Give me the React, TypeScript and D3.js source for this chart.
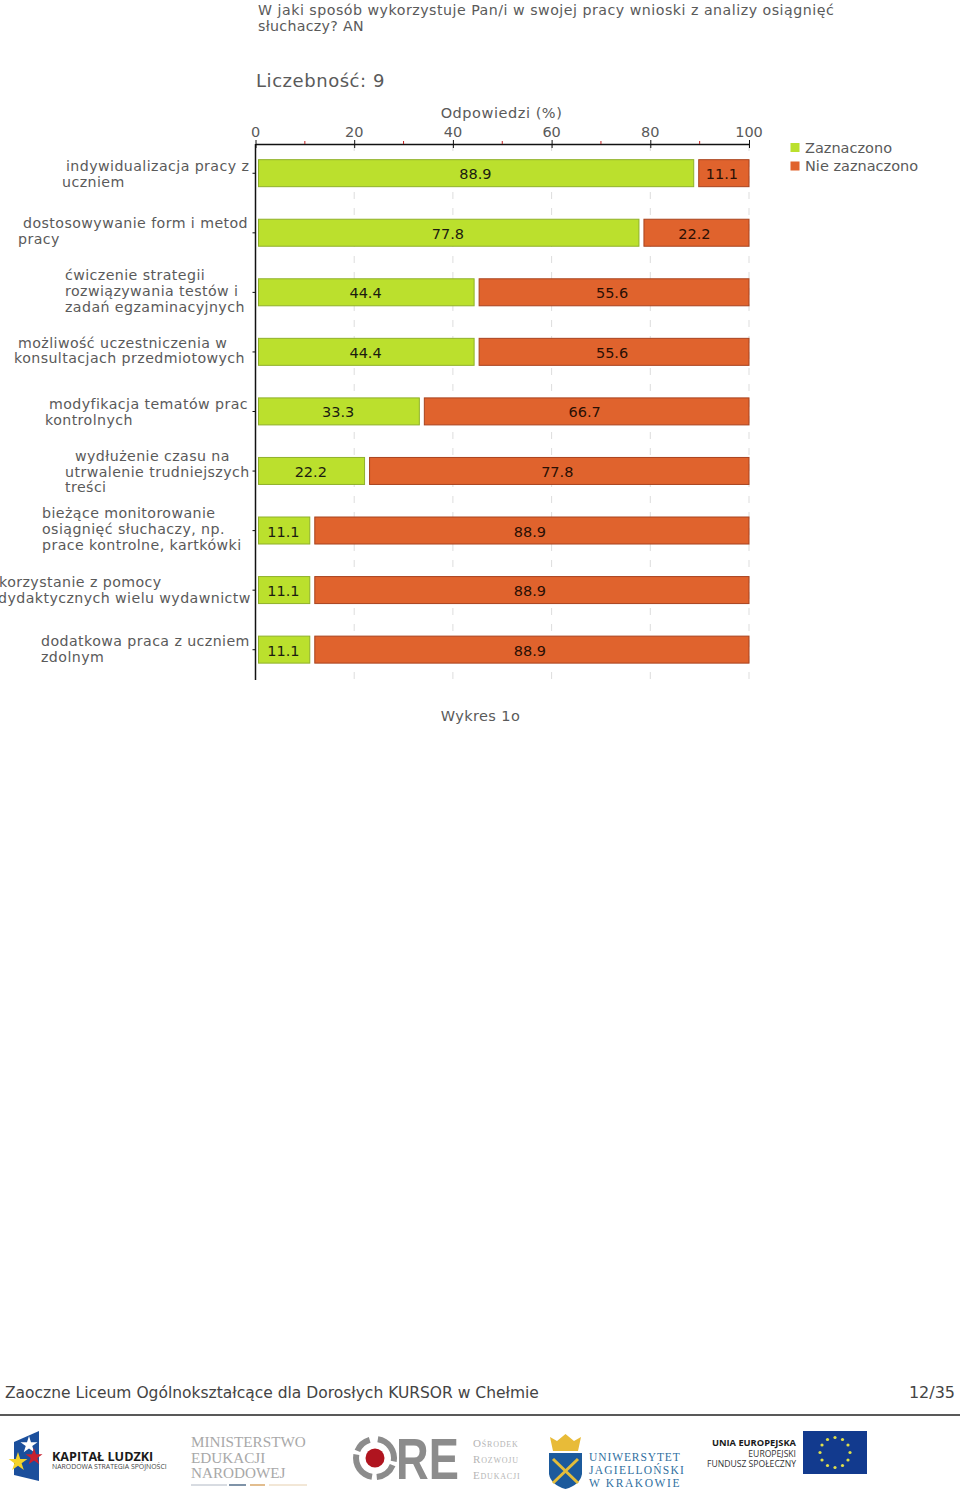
import React, { useEffect, useRef } from "react";
import * as d3 from "d3";

const categories = [
  ["indywidualizacja pracy z", "uczniem"],
  ["dostosowywanie form i metod", "pracy"],
  ["ćwiczenie strategii", "rozwiązywania testów i", "zadań egzaminacyjnych"],
  ["możliwość uczestniczenia w", "konsultacjach przedmiotowych"],
  ["modyfikacja tematów prac", "kontrolnych"],
  ["wydłużenie czasu na", "utrwalenie trudniejszych", "treści"],
  ["bieżące monitorowanie", "osiągnięć słuchaczy, np.", "prace kontrolne, kartkówki"],
  ["korzystanie z pomocy", "dydaktycznych wielu wydawnictw"],
  ["dodatkowa praca z uczniem", "zdolnym"],
];
const zaznaczono = [88.9, 77.8, 44.4, 44.4, 33.3, 22.2, 11.1, 11.1, 11.1];
const nieZaznaczono = [11.1, 22.2, 55.6, 55.6, 66.7, 77.8, 88.9, 88.9, 88.9];
const seriesNames = ["Zaznaczono", "Nie zaznaczono"];
const majorTicks = [0, 20, 40, 60, 80, 100];
const minorTicks = [10, 30, 50, 70, 90];

// left edge of each category label block
const labelLeft = [62, 18, 65, 14, 45, 65, 42, -1, 41];
const labelIndent = [
  [4, 0],
  [5, 0],
  [0, 0, 0],
  [4, 0],
  [4, 0],
  [10, 0, 0],
  [0, 0, 0],
  [0, -1],
  [0, 0],
];
const labelNudge = [0, -2, -2, -2, 0, 0, -2, -1, -1];

const FONT = "'DejaVu Sans', Verdana, sans-serif";
const SERIF = "'Liberation Serif', 'DejaVu Serif', serif";
const OPEN = "'Open Sans', sans-serif";
const TEXT = "#5a5a5a";
const GREEN = "#bbe02d";
const GREEN_EDGE = "#8fb02a";
const ORANGE = "#e0632d";
const ORANGE_EDGE = "#a8431f";

const App = () => {
  const svgRef = useRef<SVGSVGElement>(null);

  useEffect(() => {
    const svg = d3.select(svgRef.current);
    svg.selectAll("*").remove();
    svg.attr("font-family", FONT);

    const x = d3.scaleLinear().domain([0, 100]).range([255.5, 749]);
    const y = d3
      .scaleBand<number>()
      .domain(d3.range(categories.length))
      .range([144, 680]);
    const barH = 27;
    const barY = (i: number) => y(i)! + y.bandwidth() / 2 - barH / 2 - 0.6;

    const put = (
      txt: string,
      px: number,
      py: number,
      size: number,
      fill = TEXT,
      anchor = "start"
    ) =>
      svg
        .append("text")
        .attr("x", px)
        .attr("y", py)
        .attr("font-size", size)
        .attr("fill", fill)
        .attr("text-anchor", anchor)
        .text(txt);

    // Titles
    put("W jaki sposób wykorzystuje Pan/i w swojej pracy wnioski z analizy osiągnięć", 258, 15, 14.2).attr("letter-spacing", 0.5);
    put("słuchaczy? AN", 258, 31, 14.2).attr("letter-spacing", 0.3);
    put("Liczebność: 9", 256, 87, 18).attr("letter-spacing", 0.55);
    put("Odpowiedzi (%)", 501.5, 118, 14.5, TEXT, "middle").attr("letter-spacing", 0.55);

    // Grid
    svg
      .append("g")
      .selectAll("line")
      .data(majorTicks.slice(1))
      .enter()
      .append("line")
      .attr("x1", (d) => x(d))
      .attr("x2", (d) => x(d))
      .attr("y1", 144)
      .attr("y2", 680)
      .attr("stroke", "#dddddd")
      .attr("stroke-dasharray", "7 9");

    // Bars
    const bars = svg.append("g");
    bars
      .selectAll(".a")
      .data(zaznaczono)
      .enter()
      .append("rect")
      .attr("x", x(0) + 3)
      .attr("y", (_, i) => barY(i))
      .attr("width", (d) => x(d) - x(0) - 3.5)
      .attr("height", barH)
      .attr("fill", GREEN)
      .attr("stroke", GREEN_EDGE);
    bars
      .selectAll(".b")
      .data(nieZaznaczono)
      .enter()
      .append("rect")
      .attr("x", (_, i) => x(zaznaczono[i]) + 4.5)
      .attr("y", (_, i) => barY(i))
      .attr("width", (d, i) => x(100) - x(zaznaczono[i]) - 4.5)
      .attr("height", barH)
      .attr("fill", ORANGE)
      .attr("stroke", ORANGE_EDGE);

    // Bar values
    zaznaczono.forEach((d, i) => {
      const cy = barY(i) + barH / 2 + 6;
      put(d.toFixed(1), (x(0) + 3 + x(d)) / 2 - 1, cy, 14.5, "#1c1c10", "middle");
      put(
        nieZaznaczono[i].toFixed(1),
        (x(d) + 4.5 + x(100)) / 2 - 2,
        cy,
        14.5,
        "#2a0f04",
        "middle"
      );
    });

    // Top axis
    const axisG = svg.append("g").attr("transform", "translate(0,144)");
    axisG.call(
      d3.axisTop(x).tickValues(majorTicks).tickSize(4).tickSizeOuter(0).tickPadding(3) as any
    );
    axisG.select(".domain").attr("stroke", "#111").attr("stroke-width", 1.5);
    axisG.selectAll(".tick line").attr("stroke", "#111").attr("y2", -4);
    axisG
      .selectAll(".tick")
      .append("line")
      .attr("stroke", "#111")
      .attr("y2", 4);
    axisG
      .selectAll(".tick text")
      .attr("font-family", FONT)
      .attr("font-size", 14.5)
      .attr("dx", -0.5)
      .attr("fill", TEXT);
    axisG
      .selectAll(".minor")
      .data(minorTicks)
      .enter()
      .append("line")
      .attr("class", "minor")
      .attr("x1", (d) => x(d))
      .attr("x2", (d) => x(d))
      .attr("y1", -3)
      .attr("y2", 0)
      .attr("stroke", "#c02020");

    // Left axis
    const leftG = svg.append("g").attr("transform", "translate(255.5,0)");
    leftG
      .append("line")
      .attr("y1", 144)
      .attr("y2", 680)
      .attr("stroke", "#111")
      .attr("stroke-width", 1.5);
    leftG
      .selectAll(".t")
      .data(categories)
      .enter()
      .append("line")
      .attr("x1", -3)
      .attr("x2", 0)
      .attr("y1", (_, i) => y(i)! + y.bandwidth() / 2 - 0.5)
      .attr("y2", (_, i) => y(i)! + y.bandwidth() / 2 - 0.5)
      .attr("stroke", "#111");

    // Category labels
    categories.forEach((lines, i) => {
      const cy = y(i)! + y.bandwidth() / 2;
      const top = cy - ((lines.length - 1) * 15.7) / 2 + 5 + labelNudge[i];
      lines.forEach((line, j) => {
        put(line, labelLeft[i] + labelIndent[i][j], top + j * 15.7, 14.2).attr("letter-spacing", 0.42);
      });
    });

    // Legend
    [GREEN, ORANGE].forEach((c, i) => {
      svg
        .append("rect")
        .attr("x", 790.5)
        .attr("y", 143 + i * 18.5)
        .attr("width", 9)
        .attr("height", 9)
        .attr("fill", c);
      put(seriesNames[i], 805, 152.5 + i * 18.7, 14.5);
    });

    put("Wykres 1o", 480.5, 721, 14.5, TEXT, "middle").attr("letter-spacing", 0.4);

    // Footer
    put("Zaoczne Liceum Ogólnokształcące dla Dorosłych KURSOR w Chełmie", 5, 1398, 15.5, "#444");
    put("12/35", 955, 1398, 16, "#444", "end");
    svg
      .append("line")
      .attr("x1", 0)
      .attr("x2", 960)
      .attr("y1", 1415)
      .attr("y2", 1415)
      .attr("stroke", "#222")
      .attr("stroke-width", 1.5);

    // Kapitał Ludzki logo
    svg
      .append("path")
      .attr("d", "M14,1442 L39,1431 L39,1481 L14,1475 Z")
      .attr("fill", "#1b4f9c");
    const star = d3.symbol().type(d3.symbolStar);
    [
      [29, 1445, "#fff", 90],
      [18, 1462, "#f4d32a", 110],
      [34, 1457, "#c8202f", 90],
    ].forEach(([sx, sy, c, s]) => {
      svg
        .append("path")
        .attr("d", star.size(s as number)() as string)
        .attr("transform", `translate(${sx},${sy})`)
        .attr("fill", c as string);
    });
    put("KAPITAŁ LUDZKI", 52, 1461, 12.6, "#1a1a1a").attr("font-weight", 700).attr("font-family", OPEN);
    put("NARODOWA STRATEGIA SPÓJNOŚCI", 52, 1469, 6.9, "#444").attr("font-family", OPEN);

    // Ministerstwo logo
    ["MINISTERSTWO", "EDUKACJI", "NARODOWEJ"].forEach((t, i) => {
      put(t, 191, 1447 + i * 15.5, 15.2, "#a8a8a8").attr("font-family", SERIF);
    });
    svg.append("line").attr("x1", 191).attr("x2", 227).attr("y1", 1485).attr("y2", 1485).attr("stroke", "#b0b8c4");
    svg.append("line").attr("x1", 229).attr("x2", 246).attr("y1", 1485).attr("y2", 1485).attr("stroke", "#7f93a8").attr("stroke-width", 2);
    svg.append("line").attr("x1", 250).attr("x2", 265).attr("y1", 1485).attr("y2", 1485).attr("stroke", "#e2bd8e").attr("stroke-width", 2);
    svg.append("line").attr("x1", 269).attr("x2", 307).attr("y1", 1485).attr("y2", 1485).attr("stroke", "#e6cfae");

    // ORE logo
    const ring = d3.arc().innerRadius(16).outerRadius(22);
    [
      [0.15, 1.75],
      [1.95, 3.05],
      [3.3, 4.9],
      [5.1, 6.0],
    ].forEach(([a, b]) => {
      svg
        .append("path")
        .attr("d", ring({ startAngle: a, endAngle: b } as any) as string)
        .attr("transform", "translate(375,1458)")
        .attr("fill", "#8c8c8c");
    });
    svg.append("circle").attr("cx", 375).attr("cy", 1458).attr("r", 9.5).attr("fill", "#b0141f");
    put("RE", 0, 0, 58, "#8c8c8c")
      .attr("font-family", "'Liberation Sans', sans-serif")
      .attr("font-weight", 700)
      .attr("transform", "translate(396,1479) scale(0.78,1)");
    ["Ośrodek", "Rozwoju", "Edukacji"].forEach((t, i) => {
      put(t, 473, 1447 + i * 16, 11, "#b5b5b5")
        .attr("font-family", SERIF)
        .attr("font-variant", "small-caps")
        .attr("letter-spacing", 0.8);
    });

    // UJ logo
    svg
      .append("path")
      .attr("d", "M549,1453 L582,1453 L582,1474 Q580,1485 565.5,1489 Q551,1485 549,1474 Z")
      .attr("fill", "#1c5a9c");
    svg
      .append("path")
      .attr("d", "M553,1459 L578,1483 M578,1459 L553,1483")
      .attr("stroke", "#e3bd3b")
      .attr("stroke-width", 3);
    svg
      .append("path")
      .attr("d", "M550,1437 L557,1441 L565.5,1434 L574,1441 L581,1437 L578,1451 L553,1451 Z")
      .attr("fill", "#e8bb38");
    ["UNIWERSYTET", "JAGIELLOŃSKI", "W KRAKOWIE"].forEach((t, i) => {
      put(t, 589, 1461 + i * 13, 11.5, "#2f6f9f").attr("font-family", SERIF).attr("letter-spacing", 0.9 + i * 0.35);
    });

    // UE logo
    put("UNIA EUROPEJSKA", 796, 1446, 9.3, "#1a1a1a", "end").attr("font-weight", 700).attr("font-family", OPEN);
    put("EUROPEJSKI", 796, 1456.5, 8.6, "#333", "end").attr("font-family", OPEN);
    put("FUNDUSZ SPOŁECZNY", 796, 1467, 8.6, "#333", "end").attr("font-family", OPEN);
    svg.append("rect").attr("x", 803).attr("y", 1431).attr("width", 64).attr("height", 43).attr("fill", "#123a8e");
    d3.range(12).forEach((k) => {
      const a = (k / 12) * 2 * Math.PI;
      svg
        .append("circle")
        .attr("cx", 835 + 15 * Math.cos(a))
        .attr("cy", 1452.5 + 15 * Math.sin(a))
        .attr("r", 1.6)
        .attr("fill", "#e0e04a");
    });
  }, []);

  return (
    <svg
      ref={svgRef}
      width={960}
      height={1503}
      style={{ position: "absolute", left: 0, top: 0, background: "#fff" }}
    ></svg>
  );
};

export default App;
